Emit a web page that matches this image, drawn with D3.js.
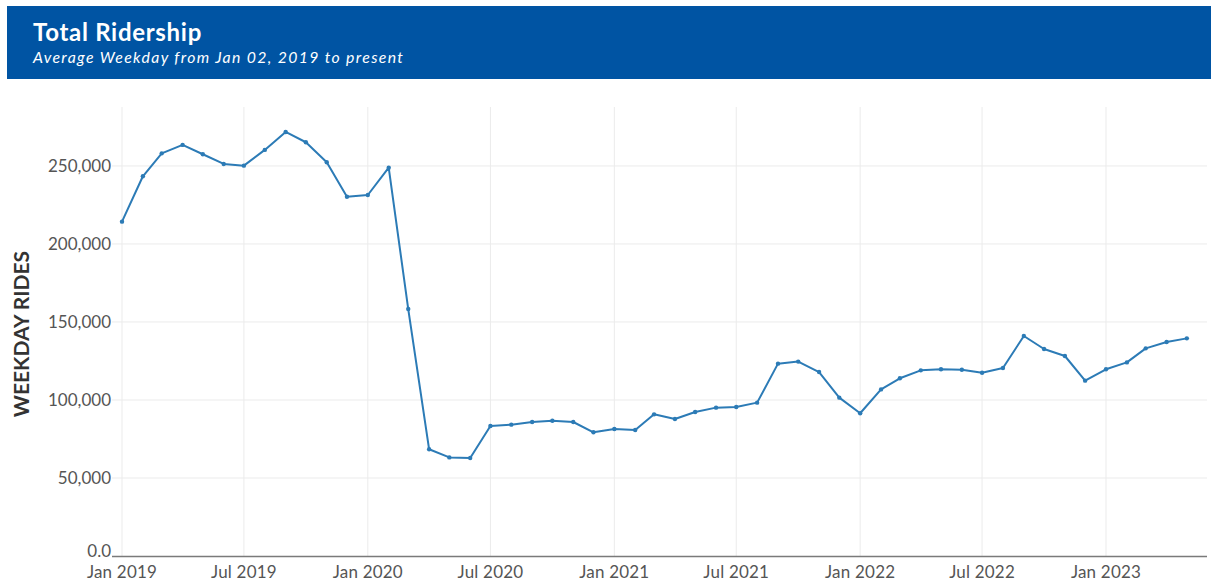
<!DOCTYPE html>
<html>
<head>
<meta charset="utf-8">
<script src="https://cdn.jsdelivr.net/npm/d3@7"></script>
<style>
  html, body { margin: 0; padding: 0; background: #fff; }
  svg { display: block; font-family: Lato, "Open Sans", sans-serif; }
</style>
</head>
<body>
<svg id="chart" width="1211" height="582"></svg>
<script>
const title = "Total Ridership";
const subtitle = "Average Weekday from Jan 02, 2019 to present";
const yAxisTitle = "WEEKDAY RIDES";
const startMonth = "2019-01";
const ridership = [
  214300, 243400, 258100, 263500, 257500, 251300, 250200, 260300, 271800, 265200, 252400, 230300,
  231400, 248900, 158300, 68400, 63200, 62800, 83300, 84200, 85900, 86700, 85900, 79300,
  81400, 80800, 90800, 87800, 92300, 95100, 95500, 98300, 123300, 124600, 117900, 101500,
  91500, 106800, 113900, 119000, 119700, 119400, 117500, 120500, 141000, 132700, 128200, 112400,
  119700, 124100, 133100, 137200, 139500
];
const yTicks = [0, 50000, 100000, 150000, 200000, 250000];
const xTickDates = ["2019-01", "2019-07", "2020-01", "2020-07", "2021-01", "2021-07", "2022-01", "2022-07", "2023-01"];

const parseMonth = d3.timeParse("%Y-%m");
const start = parseMonth(startMonth);
const data = ridership.map((v, i) => ({ date: d3.timeMonth.offset(start, i), value: v }));

const svg = d3.select("#chart");
const W = 1211, H = 582;

// Header
svg.append("rect").attr("x", 7).attr("y", 6).attr("width", W - 7).attr("height", 73).attr("fill", "#0054A3");
svg.append("text").attr("x", 33).attr("y", 41).attr("fill", "#fff")
  .attr("font-size", 24).attr("font-weight", 700).attr("letter-spacing", 0.7).text(title);
svg.append("text").attr("x", 33).attr("y", 63).attr("fill", "#fff")
  .attr("font-size", 15.8).attr("font-style", "italic").attr("letter-spacing", 1.35).text(subtitle);

// Plot area
const plotLeft = 112, plotRight = 1207, plotTop = 107, plotBottom = 556;
const xs = d3.scaleTime().domain([parseMonth("2019-01"), parseMonth("2023-01")]).range([122, 1106]);
const y = d3.scaleLinear().domain([0, 287800]).range([plotBottom, plotTop]);

const g = svg.append("g");

// horizontal gridlines
g.selectAll("line.hg").data(yTicks.filter(t => t > 0)).join("line")
  .attr("x1", plotLeft).attr("x2", plotRight)
  .attr("y1", d => y(d)).attr("y2", d => y(d))
  .attr("stroke", "#ebebeb").attr("stroke-width", 1);

// vertical gridlines
const xTicks = xTickDates.map(parseMonth);
g.selectAll("line.vg").data(xTicks).join("line")
  .attr("x1", d => xs(d)).attr("x2", d => xs(d))
  .attr("y1", plotTop).attr("y2", plotBottom)
  .attr("stroke", "#ebebeb").attr("stroke-width", 1);

// x axis line
g.append("line").attr("x1", plotLeft).attr("x2", plotRight)
  .attr("y1", plotBottom + 0.5).attr("y2", plotBottom + 0.5)
  .attr("stroke", "#7a7a7a").attr("stroke-width", 1.3);

// y tick labels
const yFmt = d => d === 0 ? "0.0" : d3.format(",")(d);
g.selectAll("text.yl").data(yTicks).join("text")
  .attr("x", 111).attr("y", d => y(d)).attr("dy", d => d === 0 ? "0.05em" : "0.36em")
  .attr("text-anchor", "end").attr("font-size", 17).attr("fill", "#555")
  .text(yFmt);

// x tick labels
const xFmt = d3.timeFormat("%b %Y");
g.selectAll("text.xl").data(xTicks).join("text")
  .attr("x", d => xs(d)).attr("y", 578)
  .attr("text-anchor", "middle").attr("font-size", 17).attr("letter-spacing", 0.2).attr("fill", "#555")
  .text(xFmt);

// y axis title
svg.append("text")
  .attr("transform", `translate(29,334) rotate(-90)`)
  .attr("text-anchor", "middle").attr("font-size", 21).attr("font-weight", 700)
  .attr("fill", "#333").text(yAxisTitle);

// line
const line = d3.line().x(d => xs(d.date)).y(d => y(d.value));
g.append("path").datum(data).attr("d", line)
  .attr("fill", "none").attr("stroke", "#2C7BB6").attr("stroke-width", 2)
  .attr("stroke-linejoin", "round");

g.selectAll("circle.pt").data(data).join("circle")
  .attr("cx", d => xs(d.date)).attr("cy", d => y(d.value)).attr("r", 2.2)
  .attr("fill", "#2C7BB6");
</script>
</body>
</html>
